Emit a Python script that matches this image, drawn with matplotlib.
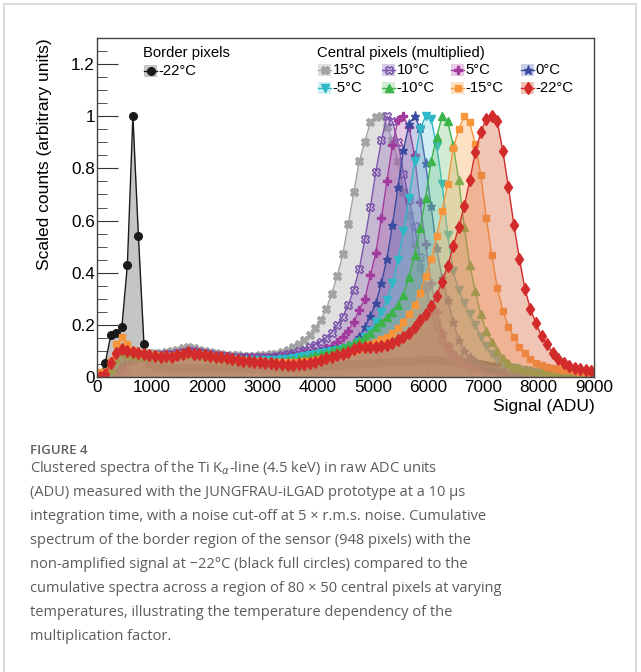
import numpy as np
import matplotlib
matplotlib.use("Agg")
import matplotlib.pyplot as plt
from matplotlib.patches import Rectangle
from matplotlib.lines import Line2D
from matplotlib.ticker import MultipleLocator, FuncFormatter

W, H = 641, 672

# bin centres (ADU), 100 ADU bins
bin_centers = np.arange(50, 9000, 100)

# border pixels, -22 C
border_m22 = [0.0, 0.054, 0.16, 0.17, 0.19, 0.43, 1.0, 0.54, 0.127, 0.05,
              0.04, 0.038, 0.037, 0.036, 0.036, 0.036, 0.036, 0.035, 0.035, 0.035,
              0.034, 0.034, 0.034, 0.033, 0.033, 0.033, 0.033, 0.033, 0.033, 0.034,
              0.034, 0.035, 0.035, 0.036, 0.037, 0.038, 0.039, 0.04, 0.041, 0.042,
              0.043, 0.044, 0.045, 0.046, 0.047, 0.048, 0.05, 0.051, 0.052, 0.054,
              0.055, 0.056, 0.057, 0.058, 0.06, 0.061, 0.062, 0.063, 0.064, 0.065,
              0.066, 0.066, 0.065, 0.063, 0.06, 0.058, 0.056, 0.054, 0.052, 0.05,
              0.047, 0.044, 0.041, 0.038, 0.035, 0.032, 0.029, 0.026, 0.023, 0.02,
              0.018, 0.016, 0.014, 0.012, 0.011, 0.01, 0.009, 0.008, 0.007, 0.006]

# central pixels (multiplied)
central_p15 = [0.0, 0.0, 0.0, 0.01, 0.03, 0.06, 0.075, 0.085, 0.09, 0.092,
               0.093, 0.093, 0.095, 0.098, 0.104, 0.11, 0.114, 0.11, 0.104, 0.099,
               0.095, 0.091, 0.088, 0.086, 0.084, 0.083, 0.082, 0.082, 0.082, 0.083,
               0.085, 0.087, 0.09, 0.097, 0.104, 0.114, 0.127, 0.14, 0.16, 0.187,
               0.22, 0.26, 0.32, 0.387, 0.47, 0.586, 0.708, 0.827, 0.903, 0.976,
               0.998, 1.0, 0.96, 0.91, 0.83, 0.71, 0.62, 0.51, 0.42, 0.34,
               0.27, 0.21, 0.16, 0.12, 0.09, 0.07, 0.056, 0.047, 0.04, 0.035,
               0.031, 0.028, 0.026, 0.024, 0.022, 0.021, 0.02, 0.019, 0.018, 0.018,
               0.017, 0.017, 0.016, 0.016, 0.016, 0.015, 0.015, 0.015, 0.015, 0.015]

central_p10 = [0.0, 0.0, 0.002, 0.005, 0.015, 0.04, 0.06, 0.075, 0.08, 0.085,
               0.086, 0.086, 0.087, 0.089, 0.093, 0.097, 0.1, 0.098, 0.095, 0.092,
               0.088, 0.085, 0.082, 0.08, 0.078, 0.077, 0.076, 0.076, 0.076, 0.077,
               0.077, 0.078, 0.08, 0.083, 0.087, 0.092, 0.098, 0.105, 0.114, 0.124,
               0.136, 0.15, 0.17, 0.2, 0.232, 0.276, 0.335, 0.415, 0.528, 0.651,
               0.788, 0.907, 1.0, 0.98, 0.9, 0.78, 0.68, 0.58, 0.46, 0.35,
               0.26, 0.19, 0.14, 0.105, 0.08, 0.063, 0.052, 0.044, 0.038, 0.033,
               0.029, 0.026, 0.023, 0.021, 0.019, 0.017, 0.016, 0.015, 0.014, 0.013,
               0.012, 0.011, 0.01, 0.009, 0.009, 0.008, 0.008, 0.007, 0.007, 0.006]

central_p5 = [0.0, 0.0, 0.005, 0.02, 0.04, 0.06, 0.07, 0.075, 0.078, 0.08,
              0.08, 0.08, 0.081, 0.083, 0.087, 0.091, 0.093, 0.091, 0.088, 0.085,
              0.082, 0.079, 0.077, 0.075, 0.074, 0.073, 0.072, 0.072, 0.072, 0.072,
              0.072, 0.073, 0.074, 0.076, 0.078, 0.081, 0.084, 0.088, 0.092, 0.096,
              0.1, 0.11, 0.12, 0.136, 0.155, 0.178, 0.212, 0.257, 0.3, 0.39,
              0.477, 0.61, 0.75, 0.89, 0.984, 1.0, 0.958, 0.85, 0.67, 0.51,
              0.36, 0.25, 0.17, 0.12, 0.088, 0.066, 0.052, 0.043, 0.037, 0.032,
              0.028, 0.025, 0.022, 0.02, 0.018, 0.016, 0.015, 0.014, 0.013, 0.012,
              0.011, 0.01, 0.009, 0.009, 0.008, 0.008, 0.007, 0.007, 0.006, 0.006]

central_0 = [0.0, 0.0, 0.01, 0.03, 0.05, 0.065, 0.07, 0.072, 0.074, 0.075,
             0.076, 0.077, 0.078, 0.08, 0.084, 0.088, 0.09, 0.088, 0.085, 0.082,
             0.079, 0.076, 0.074, 0.072, 0.07, 0.069, 0.068, 0.067, 0.067, 0.067,
             0.067, 0.068, 0.069, 0.07, 0.072, 0.075, 0.078, 0.082, 0.086, 0.09,
             0.094, 0.098, 0.102, 0.107, 0.113, 0.12, 0.13, 0.155, 0.19, 0.235,
             0.283, 0.36, 0.452, 0.583, 0.728, 0.87, 0.97, 1.0, 0.955, 0.82,
             0.654, 0.494, 0.38, 0.296, 0.212, 0.142, 0.1, 0.075, 0.057, 0.045,
             0.037, 0.031, 0.027, 0.024, 0.021, 0.019, 0.017, 0.015, 0.014, 0.013,
             0.012, 0.011, 0.01, 0.009, 0.008, 0.008, 0.007, 0.007, 0.006, 0.006]

central_m5 = [0.0, 0.0, 0.02, 0.05, 0.07, 0.075, 0.075, 0.075, 0.075, 0.075,
              0.075, 0.075, 0.076, 0.078, 0.082, 0.086, 0.088, 0.086, 0.083, 0.08,
              0.077, 0.074, 0.072, 0.07, 0.068, 0.067, 0.066, 0.065, 0.065, 0.065,
              0.065, 0.066, 0.067, 0.068, 0.07, 0.072, 0.075, 0.079, 0.083, 0.087,
              0.091, 0.095, 0.099, 0.103, 0.108, 0.113, 0.12, 0.136, 0.155, 0.178,
              0.212, 0.251, 0.296, 0.36, 0.45, 0.558, 0.686, 0.827, 0.95, 1.0,
              0.99, 0.885, 0.74, 0.545, 0.405, 0.335, 0.283, 0.24, 0.2, 0.155,
              0.119, 0.09, 0.065, 0.05, 0.04, 0.033, 0.028, 0.024, 0.021, 0.019,
              0.017, 0.015, 0.014, 0.013, 0.012, 0.011, 0.01, 0.01, 0.009, 0.009]

central_m10 = [0.0, 0.005, 0.03, 0.07, 0.095, 0.09, 0.085, 0.082, 0.08, 0.08,
               0.078, 0.077, 0.078, 0.08, 0.084, 0.088, 0.09, 0.088, 0.085, 0.082,
               0.078, 0.075, 0.072, 0.07, 0.068, 0.066, 0.064, 0.063, 0.062, 0.062,
               0.061, 0.061, 0.062, 0.063, 0.065, 0.067, 0.07, 0.074, 0.078, 0.083,
               0.088, 0.093, 0.099, 0.106, 0.114, 0.122, 0.131, 0.141, 0.152, 0.17,
               0.19, 0.21, 0.23, 0.25, 0.276, 0.315, 0.385, 0.468, 0.57, 0.686,
               0.827, 0.92, 1.0, 0.98, 0.89, 0.756, 0.577, 0.43, 0.33, 0.24,
               0.175, 0.136, 0.1, 0.072, 0.052, 0.04, 0.033, 0.028, 0.025, 0.022,
               0.02, 0.018, 0.016, 0.015, 0.014, 0.013, 0.012, 0.011, 0.01, 0.01]

central_m15 = [0.02, 0.02, 0.06, 0.125, 0.155, 0.125, 0.105, 0.095, 0.09, 0.09,
               0.085, 0.082, 0.082, 0.082, 0.086, 0.09, 0.092, 0.09, 0.087, 0.084,
               0.08, 0.077, 0.074, 0.071, 0.068, 0.066, 0.064, 0.062, 0.06, 0.06,
               0.058, 0.057, 0.056, 0.056, 0.056, 0.057, 0.058, 0.06, 0.063, 0.066,
               0.07, 0.074, 0.078, 0.083, 0.088, 0.094, 0.1, 0.108, 0.116, 0.125,
               0.135, 0.145, 0.155, 0.167, 0.187, 0.212, 0.242, 0.276, 0.321, 0.388,
               0.451, 0.539, 0.638, 0.74, 0.877, 0.95, 1.0, 0.976, 0.894, 0.775,
               0.608, 0.468, 0.34, 0.255, 0.193, 0.152, 0.116, 0.091, 0.069, 0.055,
               0.045, 0.038, 0.033, 0.03, 0.027, 0.025, 0.023, 0.021, 0.02, 0.019]

central_m22 = [0.0, 0.01, 0.052, 0.093, 0.106, 0.101, 0.097, 0.093, 0.088, 0.086,
               0.08, 0.078, 0.08, 0.078, 0.084, 0.09, 0.094, 0.09, 0.088, 0.086,
               0.082, 0.078, 0.075, 0.072, 0.07, 0.066, 0.063, 0.06, 0.058, 0.057,
               0.054, 0.052, 0.05, 0.048, 0.046, 0.046, 0.048, 0.05, 0.054, 0.057,
               0.065, 0.072, 0.078, 0.083, 0.088, 0.097, 0.106, 0.114, 0.114, 0.114,
               0.116, 0.119, 0.122, 0.129, 0.14, 0.152, 0.17, 0.19, 0.219, 0.242,
               0.273, 0.311, 0.366, 0.426, 0.501, 0.574, 0.654, 0.754, 0.861, 0.938,
               0.99, 1.0, 0.98, 0.865, 0.728, 0.583, 0.453, 0.337, 0.26, 0.206,
               0.157, 0.125, 0.093, 0.069, 0.052, 0.042, 0.036, 0.031, 0.027, 0.024]

central_labels = ["15°C", "10°C", "5°C", "0°C", "-5°C", "-10°C", "-15°C", "-22°C"]
central_values = [central_p15, central_p10, central_p5, central_0,
                  central_m5, central_m10, central_m15, central_m22]

# styles: line colour, fill colour, fill alpha, marker, size, marker face
central_styles = [
    ("#a3a3a3", "#a8a8a8", 0.35, "X", 6.0, None),
    ("#7a52aa", "#9070b8", 0.35, "X", 6.0, "none"),
    ("#a33a9d", "#b050a8", 0.30, "P", 6.0, None),
    ("#3a4a9e", "#5060b0", 0.30, "*", 6.5, None),
    ("#2fb8c8", "#62cbd4", 0.30, "v", 5.5, None),
    ("#3cb44b", "#6dc26f", 0.30, "^", 5.5, None),
    ("#f7953b", "#fba95a", 0.35, "s", 5.0, None),
    ("#d22b2b", "#dd6f4a", 0.40, "d", 6.0, None),
]
border_style = ("#1a1a1a", "#8c8c8c", 0.50, "o", 5.5, None)

plt.rcParams["font.family"] = ["Liberation Sans", "DejaVu Sans"]

fig = plt.figure(figsize=(W / 100, H / 100), dpi=100)


def fx(px):
    return px / W


def fy(py):
    return 1 - py / H


# thin frame around the whole panel
fig.add_artist(Rectangle((fx(4), fy(700)), fx(632), 696 / H, transform=fig.transFigure,
                         facecolor="none", edgecolor="#d4d4d4", lw=1.2))

ax = fig.add_axes([fx(97), fy(377), (594 - 97) / W, (377 - 38) / H])


def draw(vals, style, z):
    lc, fc, fa, mk, ms, mfc = style
    ax.fill_between(bin_centers, 0, vals, color=fc, alpha=fa, lw=0, zorder=z)
    ax.plot(bin_centers, vals, color=lc, lw=1.0, marker=mk, ms=ms,
            mfc=lc if mfc is None else mfc, mec=lc, mew=1.0, zorder=z + 0.5)


draw(border_m22, border_style, 2)
for i, (vals, st) in enumerate(zip(central_values, central_styles)):
    draw(vals, st, 3 + i)

ax.set_xlim(0, 9000)
ax.set_ylim(0, 1.3)
ax.xaxis.set_major_locator(MultipleLocator(1000))
ax.xaxis.set_minor_locator(MultipleLocator(200))
ax.yaxis.set_major_locator(MultipleLocator(0.2))
ax.yaxis.set_minor_locator(MultipleLocator(0.05))
ax.yaxis.set_major_formatter(FuncFormatter(lambda v, p: "%g" % round(v, 2)))
ax.tick_params(axis="both", which="both", direction="in", top=False, right=False,
               colors="#333333", labelcolor="black", labelsize=12.3)
ax.tick_params(axis="y", which="major", length=15, pad=1.5)
ax.tick_params(axis="y", which="minor", length=7.5)
ax.tick_params(axis="x", which="major", length=10, pad=2.5)
ax.tick_params(axis="x", which="minor", length=5)
for s in ax.spines.values():
    s.set_color("#444444")
    s.set_linewidth(1.0)
    s.set_zorder(20)

fig.text(fx(45), fy(38), "Scaled counts (arbitrary units)", rotation=90,
         ha="center", va="top", fontsize=12.5)
fig.text(fx(595), fy(407), "Signal (ADU)", ha="right", va="center", fontsize=12.5)

# legends
leg_fs = 10.7


def legend_entry(px, py, style, text):
    lc, fc, fa, mk, ms, mfc = style
    fig.add_artist(Rectangle((fx(px), fy(py + 5.5)), 13 / W, 11 / H,
                             transform=fig.transFigure, facecolor=fc, alpha=fa,
                             edgecolor="none"))
    fig.add_artist(Line2D([fx(px), fx(px + 13)], [fy(py), fy(py)],
                          transform=fig.transFigure, color=lc, lw=1.0))
    fig.add_artist(Line2D([fx(px + 6.5)], [fy(py)], transform=fig.transFigure,
                          color=lc, marker=mk, ms=ms,
                          mfc=lc if mfc is None else mfc, mec=lc, mew=1.0))
    fig.text(fx(px + 14.5), fy(py), text, ha="left", va="center", fontsize=leg_fs)


fig.text(fx(143), fy(53), "Border pixels", ha="left", va="center", fontsize=leg_fs)
legend_entry(144, 71, border_style, "-22°C")

fig.text(fx(317), fy(53), "Central pixels (multiplied)", ha="left", va="center",
         fontsize=leg_fs)
col_x = [318, 382, 451, 521]
row_y = [70, 88]
for i, (lab, st) in enumerate(zip(central_labels, central_styles)):
    legend_entry(col_x[i % 4], row_y[i // 4], st, lab)

# caption
cap_font = ["Open Sans", "DejaVu Sans"]
fig.text(fx(30), fy(451), "FIGURE 4", ha="left", va="center", fontsize=9.5,
         color="#606060", family=cap_font, weight="semibold")
caption_lines = [
    "Clustered spectra of the Ti K$_{\\alpha}$-line (4.5 keV) in raw ADC units",
    "(ADU) measured with the JUNGFRAU-iLGAD prototype at a 10 μs",
    "integration time, with a noise cut-off at 5 × r.m.s. noise. Cumulative",
    "spectrum of the border region of the sensor (948 pixels) with the",
    "non-amplified signal at −22°C (black full circles) compared to the",
    "cumulative spectra across a region of 80 × 50 central pixels at varying",
    "temperatures, illustrating the temperature dependency of the",
    "multiplication factor.",
]
cap_y = [469, 493, 517, 541, 565, 589, 612, 636]
cap_texts = []
for line, yy in zip(caption_lines, cap_y):
    cap_texts.append(fig.text(fx(30), fy(yy), line, ha="left", va="center",
                              fontsize=11, color="#5c5c5c", family=cap_font))

# fit caption width to the reference line length
fig.canvas.draw()
w = cap_texts[5].get_window_extent().width
for t in cap_texts:
    t.set_fontsize(11 * 471 / w)

fig.savefig("out.png", dpi=100)
